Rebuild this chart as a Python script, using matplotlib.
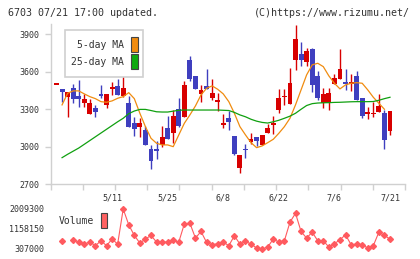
import numpy as np
import matplotlib
matplotlib.use("Agg")
import matplotlib.pyplot as plt
from matplotlib.patches import Rectangle

W, H = 420, 259
nan = np.nan

# daily candles (yen)
opens = [3500, 3463, 3399, 3468, 3407, 3348, 3265, 3308, 3422, 3337,
         3469, 3487, 3409, 3348, 3191, 3161, 3135, 2980, 2977, 3015,
         3148, 3113, 3300, 3241, 3695, 3567, 3423, 3487, 3393, 3365,
         3183, 3233, 3087, 2833, 2982, 3041, 3076, 3017, 3108, 3185,
         3295, 3402, 3345, 3695, 3745, 3679, 3783, 3567, 3353, 3348,
         3505, 3545, 3515, 3509, 3564, 3388, 3271, 3266, 3281, 3273,
         3129]
highs = [3500, 3463, 3441, 3503, 3532, 3425, 3385, 3335, 3494, 3423,
         3519, 3543, 3743, 3407, 3241, 3228, 3167, 3012, 3049, 3167,
         3247, 3295, 3391, 3527, 3729, 3567, 3495, 3623, 3540, 3428,
         3260, 3287, 3087, 2935, 3020, 3108, 3076, 3094, 3180, 3246,
         3460, 3460, 3628, 3975, 3839, 3791, 3791, 3607, 3471, 3468,
         3580, 3780, 3625, 3580, 3607, 3388, 3316, 3361, 3423, 3295,
         3289]
lows = [3500, 3361, 3241, 3348, 3321, 3316, 3265, 3241, 3393, 3313,
        3417, 3417, 3396, 3161, 3087, 3081, 3017, 2825, 2900, 2996,
        3063, 3033, 3161, 3241, 3529, 3463, 3361, 3465, 3375, 3289,
        3148, 3135, 2935, 2793, 2913, 3023, 3007, 3017, 3108, 3102,
        3273, 3334, 3345, 3615, 3649, 3644, 3441, 3375, 3308, 3295,
        3505, 3545, 3452, 3444, 3375, 3228, 3220, 3241, 3281, 2983,
        3095]
closes = [3500, 3441, 3441, 3383, 3385, 3383, 3348, 3276, 3408, 3423,
          3473, 3417, 3471, 3161, 3145, 3191, 3017, 2889, 2973, 3076,
          3063, 3247, 3169, 3492, 3540, 3463, 3455, 3465, 3433, 3369,
          3187, 3201, 2943, 2935, 2978, 3060, 3044, 3092, 3148, 3189,
          3388, 3406, 3513, 3863, 3697, 3767, 3495, 3393, 3423, 3431,
          3551, 3623, 3511, 3513, 3375, 3247, 3275, 3270, 3327, 3055,
          3289]

ma5 = [nan, 3335, 3428, 3447, 3447, 3423, 3401, 3385, 3361, 3356,
       3367, 3388, 3401, 3433, 3385, 3268, 3161, 3068, 3028, 3015,
       3015, 3001, 3095, 3188, 3255, 3327, 3415, 3468, 3487, 3460,
       3423, 3361, 3268, 3161, 3095, 3033, 2993, 3007, 3033, 3060,
       3108, 3161, 3228, 3335, 3455, 3575, 3655, 3668, 3641, 3567,
       3508, 3463, 3495, 3508, 3513, 3508, 3455, 3396, 3348, 3300,
       nan]
ma25 = [nan, 2913, 2940, 2965, 2990, 3020, 3050, 3080, 3110, 3140,
        3170, 3200, 3228, 3265, 3286, 3299, 3299, 3290, 3280, 3278,
        3278, 3285, 3292, 3294, 3294, 3294, 3294, 3294, 3294, 3294,
        3292, 3290, 3275, 3255, 3240, 3220, 3205, 3195, 3190, 3200,
        3212, 3228, 3245, 3268, 3300, 3330, 3345, 3350, 3352, 3353,
        3355, 3356, 3358, 3360, 3361, 3361, 3361, 3362, 3372, 3385,
        3396]

volume = [nan, 658700, nan, 700900, 602400, 518000, 602400, 447700, 658700, 447700,
          729000, 518000, 2009300, 1334000, 883800, 560200, 729000, 883800, 602400, 602400,
          602400, 672800, 602400, 1376000, 1404300, 771200, 1052600, 588400, 489900, 532100,
          602400, 447700, 869700, 518000, 630600, 518000, 349200, 307000, 391400, 729000,
          602400, 658700, 1446500, 1826300, 1052600, 771200, 1024500, 658700, 658700, 391400,
          532100, 700900, 912000, 489900, 518000, 489900, 349200, 447700, 1024500, 883800,
          729000]

date_pos = [10, 20, 30, 40, 50, 60]
date_labels = ["5/11", "5/25", "6/8", "6/22", "7/6", "7/21"]
price_ticks = [2700, 3000, 3300, 3600, 3900]
vol_ticks = [307000, 1158150, 2009300]

RED, BLUE = "#d80000", "#3f3fbf"
ORANGE, GREEN = "#f08c10", "#10a010"
VOLC = "#ff5a5f"
GRID = "#d0d0d0"
TXT = "#333333"
FONT = "DejaVu Sans Mono"


def fx(px):
    return px / W


def fy(py):
    return 1 - py / H


fig = plt.figure(figsize=(W / 100, H / 100), dpi=100)
fig.patch.set_facecolor("white")

# main price panel
left, right, top, bottom = 50.5, 405, 24, 184.3
ax = fig.add_axes([fx(left), fy(bottom), fx(right - left), (bottom - top) / H])
x = np.arange(len(closes))
xmin, xmax = -1.08, 62.7
ax.set_xlim(xmin, xmax)
ax.set_ylim(2700, 3982)

o, c = np.array(opens, float), np.array(closes, float)
up = c >= o
cols = np.where(up, RED, BLUE)
body_lo = np.minimum(o, c)
body_h = np.maximum(np.abs(c - o), 14)
ax.vlines(x, lows, highs, colors=cols, lw=1, zorder=2)
ax.bar(x, body_h, bottom=body_lo - np.where(np.abs(c - o) < 14, 7, 0),
       width=0.88, color=cols, zorder=3, linewidth=0)

ax.plot(x, ma5, color=ORANGE, lw=0.9, zorder=4)
ax.plot(x, ma25, color=GREEN, lw=0.9, zorder=4)

for s in ["top", "right"]:
    ax.spines[s].set_visible(False)
for s in ["left", "bottom"]:
    ax.spines[s].set_color(GRID)
    ax.spines[s].set_linewidth(1)

ax.set_yticks(price_ticks)
ax.set_yticklabels([str(v) for v in price_ticks])
ax.tick_params(axis="y", length=4.3, width=1, color=GRID, labelsize=6,
               labelcolor=TXT, pad=3.5)
ax.set_xticks(np.linspace(xmin, xmax, 12))
ax.set_xticklabels([])
ax.tick_params(axis="x", which="major", length=4.3, width=1, color=GRID)
ax.set_xticks(date_pos, minor=True)
ax.set_xticklabels(date_labels, minor=True)
ax.tick_params(axis="x", which="minor", length=0, labelsize=6,
               labelcolor=TXT, pad=6.5)
for lab in ax.get_xticklabels(minor=True) + ax.get_yticklabels():
    lab.set_family(FONT)

# legend box
fig.add_artist(Rectangle((fx(65), fy(76.7)), fx(143.3 - 65), (76.7 - 30) / H,
                         transform=fig.transFigure, facecolor="white",
                         edgecolor=GRID, lw=1.2, zorder=5))
fig.text(fx(124), fy(45), "5-day MA", ha="right", va="center", fontsize=7,
         family=FONT, color=TXT, zorder=6)
fig.text(fx(124), fy(62), "25-day MA", ha="right", va="center", fontsize=7,
         family=FONT, color=TXT, zorder=6)
fig.add_artist(Rectangle((fx(131), fy(51.7)), fx(6.7), 15 / H,
                         transform=fig.transFigure, facecolor=ORANGE,
                         edgecolor="#444444", lw=0.8, zorder=7))
fig.add_artist(Rectangle((fx(131), fy(69.3)), fx(6.7), 15 / H,
                         transform=fig.transFigure, facecolor="#10aa10",
                         edgecolor="#444444", lw=0.8, zorder=7))

# volume panel
vtop, vbot = 200, 255
per_px = (2009300 - 307000) / 40.0
ax2 = fig.add_axes([fx(left), fy(vbot), fx(right - left), (vbot - vtop) / H])
ax2.set_xlim(xmin, xmax)
ax2.set_ylim(307000 - (vbot - 249) * per_px, 2009300 + (209 - vtop) * per_px)
ax2.plot(x, volume, color=VOLC, lw=0.8, marker="D", ms=3.0, mec=VOLC, mfc=VOLC)
for s in ax2.spines.values():
    s.set_visible(False)
ax2.set_xticks([])
ax2.set_yticks(vol_ticks)
ax2.set_yticklabels([str(v) for v in vol_ticks])
ax2.tick_params(axis="y", length=0, labelsize=6, labelcolor=TXT, pad=4.5)
for lab in ax2.get_yticklabels():
    lab.set_family(FONT)
ax2.patch.set_alpha(0)

fig.text(fx(59), fy(221), "Volume", ha="left", va="center", fontsize=7,
         family=FONT, color=TXT)
fig.add_artist(Rectangle((fx(101), fy(228.3)), fx(6.3), 15.6 / H,
                         transform=fig.transFigure, facecolor="#ff6262",
                         edgecolor="#444444", lw=0.8))

# header
fig.text(fx(8), fy(13), "6703 07/21 17:00 updated.", ha="left", va="center",
         fontsize=7.2, family=FONT, color=TXT)
fig.text(fx(410), fy(13), "(C)https://www.rizumu.net/", ha="right",
         va="center", fontsize=7.2, family=FONT, color=TXT)

fig.savefig("out.png", dpi=100, facecolor="white")
